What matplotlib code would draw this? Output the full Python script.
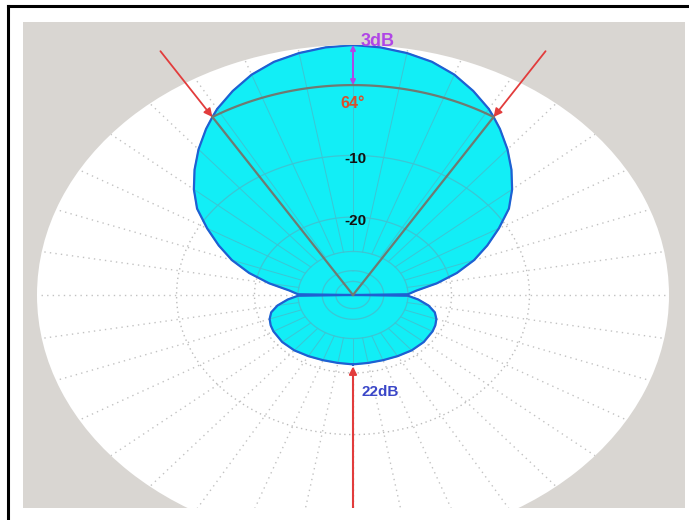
import numpy as np
import matplotlib
matplotlib.use("Agg")
import matplotlib.pyplot as plt
from matplotlib.patches import Rectangle
from matplotlib.lines import Line2D

# azimuth pattern, one half (symmetric about boresight), degrees / dB
ang_half = [0, 5, 10, 15, 20, 25, 30, 32, 35, 40, 45, 50, 55, 60, 65, 70, 75,
            80, 85, 89, 90, 91, 95, 100, 105, 110, 115, 120, 130, 140, 150,
            160, 170, 180]
gain_half = [0.0, -0.1, -0.3, -0.6, -1.1, -1.8, -2.6, -3.0, -3.6, -4.7, -5.9,
             -7.2, -8.7, -10.8, -13.0, -15.4, -18.5, -22.5, -27.5, -30.0,
             -99.0, -30.0, -27.0, -24.3, -22.6, -21.8, -21.4, -21.2, -21.1,
             -21.3, -21.7, -22.0, -22.1, -22.0]

ring_db = [-10, -20, -30, -40, -50]
ring_labels = ["-10", "-20"]
beamwidth = 64      # deg, between -3 dB points
front_back = 22     # dB

plt.rcParams["font.family"] = ["Liberation Sans", "DejaVu Sans"]

BG = "#d9d6d2"
CYAN = "#12eef6"
EDGE = "#1f5fd2"
TEAL = "#3cc6d4"
RED = "#e23c3c"
PURPLE = "#b046e6"


def arrl(db):
    # ARRL log-periodic radial scale: 0.89 per 2 dB
    return 0.89 ** (-np.asarray(db, dtype=float) / 2.0)


ang = np.array(ang_half, dtype=float)
g = np.array(gain_half, dtype=float)
theta = np.radians(np.concatenate([-ang[::-1], ang[1:]]))
gain = np.concatenate([g[::-1], g[1:]])

fig = plt.figure(figsize=(6.89, 5.2), dpi=100)
W, H = 689.0, 520.0

# grey panel and frame
fig.add_artist(Rectangle((23 / W, 12 / H), 662 / W, 486 / H,
                         transform=fig.transFigure, facecolor=BG,
                         edgecolor="none", zorder=-1))

# elliptical polar plot (squashed circle)
ax = fig.add_axes([37 / W, (H - 545) / H, 632 / W, 500 / H], projection="polar")
ax.set_aspect("auto")
ax.set_theta_zero_location("N")
ax.set_theta_direction(-1)
ax.set_ylim(0, 1)
ax.grid(False)
ax.set_xticks([])
ax.set_yticks([])
ax.spines["polar"].set_visible(False)
ax.patch.set_facecolor("white")

circ = np.linspace(0, 2 * np.pi, 721)
r_in = arrl(-30)
spokes = np.radians(np.arange(0, 360, 10))

# dotted grey grid
for db in ring_db:
    ax.plot(circ, np.full_like(circ, arrl(db)), color="#bcbcbc", lw=1.0,
            ls=(0, (1, 2.5)), zorder=1)
for t in spokes:
    ax.plot([t, t], [r_in, 1.0], color="#c2c2c2", lw=1.0,
            ls=(0, (1, 3)), zorder=1)

# pattern
lobe = ax.fill(theta, arrl(gain), color=CYAN, zorder=2)[0]

# grid seen through the lobe
for db in ring_db:
    ln, = ax.plot(circ, np.full_like(circ, arrl(db)), color=TEAL, lw=0.9, zorder=3)
    ln.set_clip_path(lobe)
for t in spokes:
    ln, = ax.plot([t, t], [r_in, 1.0], color=TEAL, lw=0.7, zorder=3)
    ln.set_clip_path(lobe)

ax.plot(np.append(theta, theta[0]), arrl(np.append(gain, gain[0])),
        color=EDGE, lw=1.6, zorder=4)

# beamwidth lines and -3 dB arc
half = np.radians(beamwidth / 2.0)
r3 = float(arrl(-3))
for s in (-1, 1):
    ax.plot([0, s * half], [0, r3], color="#6f7a72", lw=1.6, zorder=5)
arc = np.linspace(-half, half, 80)
ax.plot(arc, np.full_like(arc, r3), color="#6f7a72", lw=1.6, zorder=5)

# red pointers at the -3 dB points
for s in (-1, 1):
    ax.annotate("", xy=(s * half, r3), xytext=(s * half, 1.15),
                arrowprops=dict(arrowstyle="-|>", color=RED, lw=1.3,
                                mutation_scale=12, shrinkA=0, shrinkB=0),
                annotation_clip=False, zorder=6)

# front-to-back pointer
r_back = float(arrl(-front_back))
ax.annotate("", xy=(np.pi, r_back * 1.03), xytext=(np.pi, 0.86),
            arrowprops=dict(arrowstyle="-|>", color=RED, lw=1.5,
                            mutation_scale=11, shrinkA=0, shrinkB=0),
            annotation_clip=False, zorder=6)
ax.annotate("%ddB" % front_back, xy=(np.pi, r_back), xytext=(9, -28),
            textcoords="offset pixels", ha="left", va="center",
            color="#3a46c8", fontsize=11, fontweight="bold", zorder=7)

# 3 dB marker
ax.annotate("", xy=(0, 1.0), xytext=(0, r3),
            arrowprops=dict(arrowstyle="<|-|>", color=PURPLE, lw=1.4,
                            mutation_scale=7, shrinkA=0, shrinkB=0),
            annotation_clip=False, zorder=6)
ax.annotate("3dB", xy=(0, 1.0), xytext=(8, 4), textcoords="offset pixels",
            ha="left", va="center", color=PURPLE, fontsize=13,
            fontweight="bold", zorder=7, annotation_clip=False)
ax.annotate("%d°" % beamwidth, xy=(0, r3), xytext=(0, -18),
            textcoords="offset pixels", ha="center", va="center",
            color="#d9502c", fontsize=11.5, fontweight="bold", zorder=7)

# ring labels
for db, lab in zip(ring_db, ring_labels):
    ax.annotate(lab, xy=(0, arrl(db)), xytext=(2, -4),
                textcoords="offset pixels", ha="center", va="center",
                color="#111111", fontsize=11, fontweight="bold", zorder=7)

# white margin below the panel, frame on top/left
fig.add_artist(Rectangle((0, 0), 1, 12 / H, transform=fig.transFigure,
                         facecolor="white", edgecolor="none", zorder=10))
fig.add_artist(Line2D([8 / W, 1.0], [1 - 6 / H, 1 - 6 / H],
                      transform=fig.transFigure, color="black", lw=2.2, zorder=11))
fig.add_artist(Line2D([8 / W, 8 / W], [0, 1 - 6 / H],
                      transform=fig.transFigure, color="black", lw=2.2, zorder=11))

fig.savefig("out.png", dpi=100)
